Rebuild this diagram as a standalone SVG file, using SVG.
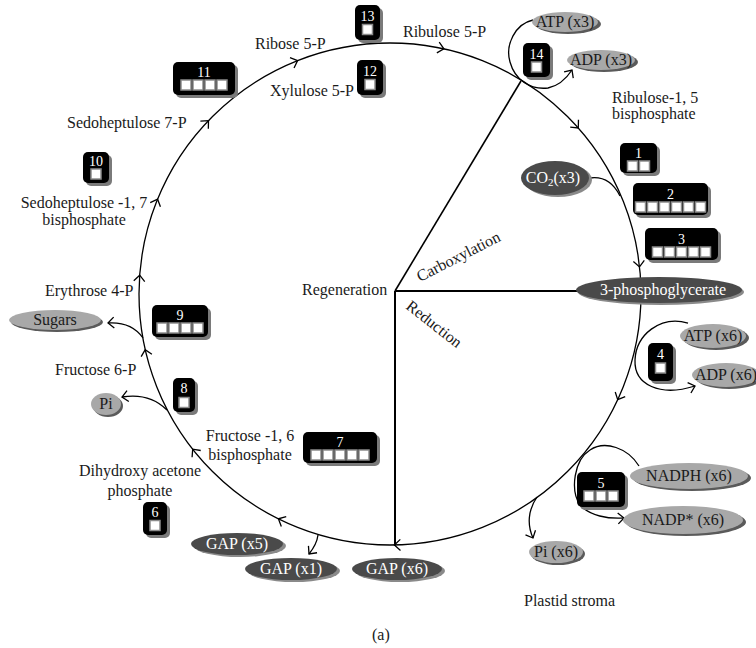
<svg xmlns="http://www.w3.org/2000/svg" width="756" height="648" viewBox="0 0 756 648">
<style>
text{font-family:"Liberation Serif","DejaVu Serif",serif;font-size:16px;fill:#1a1a1a}
.w{fill:#fff}
.m{text-anchor:middle}
.num{fill:#fff;font-size:14px;text-anchor:middle}
.bx{fill:#000}
.bs{fill:#7a7a7a}
.sq{fill:#fff;stroke:#8c8c8c;stroke-width:1.5}
.le{fill:#a8a8a8}
.ls{fill:#5a5a5a}
.de{fill:#4a4a4a}
.ds{fill:#8a8a8a}
.ln{fill:none;stroke:#000;stroke-width:1.3}
.hub{fill:none;stroke:#000;stroke-width:2}
</style>
<defs>
<path id="chev" d="M-6,-5.5 L0,0 L-6,5.5" fill="none" stroke="#000" stroke-width="1.3"/>
<marker id="arr" markerUnits="userSpaceOnUse" markerWidth="14" markerHeight="14" refX="7" refY="7" orient="auto" viewBox="0 0 14 14">
<path d="M1,1.5 L7,7 L1,12.5" fill="none" stroke="#000" stroke-width="1.3"/>
</marker>
</defs>
<rect width="756" height="648" fill="#fff"/>

<g id="connectors">
<circle cx="390" cy="294" r="251" class="ln"/>
<path d="M395,291 L521,81" fill="none" stroke="#000" stroke-width="1.6"/>
<path d="M395,291 L580,291" class="hub"/>
<path d="M395,291 L395,546" class="hub"/>
<use href="#chev" transform="translate(394.4,545) rotate(179)"/>
<use href="#chev" transform="translate(278.4,518.8) rotate(206.4)"/>
<use href="#chev" transform="translate(192.7,449.2) rotate(231.8)"/>
<use href="#chev" transform="translate(145.2,349.6) rotate(257.2)"/>
<use href="#chev" transform="translate(139.7,275.2) rotate(274.3)"/>
<use href="#chev" transform="translate(157.6,199.2) rotate(292.2)"/>
<use href="#chev" transform="translate(208.5,120.6) rotate(313.7)"/>
<use href="#chev" transform="translate(297.6,60.6) rotate(338.4)"/>
<use href="#chev" transform="translate(443.9,48.8) rotate(12.4)"/>
<use href="#chev" transform="translate(578.3,128) rotate(48.6)"/>
<use href="#chev" transform="translate(639.5,266.9) rotate(83.8)"/>
<use href="#chev" transform="translate(617.7,399.7) rotate(114.9)"/>
<path d="M533,20 C515,24 505,45 510,62 C515,80 530,90 548,88 C558,86 566,79 572,70" class="ln" marker-end="url(#arr)"/>
<path d="M590,178 C605,176 614,184 620,196" class="ln"/>
<path d="M688,323 C660,315 636,335 635,360 C634,385 660,397 695,386" class="ln" marker-end="url(#arr)"/>
<path d="M639,466 C628,448 605,440 590,450 C574,460 570,490 580,505 C590,516 608,519 624,518" class="ln" marker-end="url(#arr)"/>
<path d="M537,497 C528,510 527,525 533,538" class="ln" marker-end="url(#arr)"/>
<path d="M167,410 C155,398 140,394 122,397" class="ln" marker-end="url(#arr)"/>
<path d="M143,338 C136,328 124,322 108,323" class="ln" marker-end="url(#arr)"/>
<path d="M318,535 C317,543 313,549 309,554" class="ln" marker-end="url(#arr)"/>
</g>

<g id="labels">
<text x="403" y="37">Ribulose 5-P</text>
<text x="255" y="49">Ribose 5-P</text>
<text x="270" y="96">Xylulose 5-P</text>
<text x="612" y="103">Ribulose-1, 5</text>
<text x="612" y="119">bisphosphate</text>
<text x="67" y="128">Sedoheptulose 7-P</text>
<text x="84" y="208" class="m">Sedoheptulose -1, 7</text>
<text x="84" y="225" class="m">bisphosphate</text>
<text x="45" y="296">Erythrose 4-P</text>
<text x="55" y="375">Fructose 6-P</text>
<text x="250" y="441" class="m">Fructose -1, 6</text>
<text x="250" y="460" class="m">bisphosphate</text>
<text x="140" y="476" class="m">Dihydroxy acetone</text>
<text x="140" y="496" class="m">phosphate</text>
<text x="302" y="295">Regeneration</text>
<text transform="translate(420,282) rotate(-27)">Carboxylation</text>
<text transform="translate(405,308) rotate(38)">Reduction</text>
<text x="524" y="606">Plastid stroma</text>
<text x="372" y="640">(a)</text>
</g>

<g id="e13"><rect x="358" y="8" width="25" height="35" rx="5" class="bs"/><rect x="355" y="5" width="25" height="35" rx="5" class="bx"/><text x="367.5" y="20.5" class="num">13</text><rect x="362.5" y="24.5" width="10" height="10" class="sq"/></g>
<g id="e12"><rect x="360" y="63" width="26" height="35" rx="5" class="bs"/><rect x="357" y="60" width="26" height="35" rx="5" class="bx"/><text x="370" y="75.5" class="num">12</text><rect x="365" y="79.5" width="10" height="10" class="sq"/></g>
<g id="e14"><rect x="526" y="46" width="27" height="34" rx="5" class="bs"/><rect x="523" y="43" width="27" height="34" rx="5" class="bx"/><text x="536.5" y="58.5" class="num">14</text><rect x="531.5" y="62" width="10" height="10" class="sq"/></g>
<g id="e1"><rect x="623" y="146" width="37" height="30" rx="5" class="bs"/><rect x="620" y="143" width="37" height="30" rx="5" class="bx"/><text x="638.5" y="158" class="num">1</text><rect x="627.5" y="161" width="10" height="10" class="sq"/><rect x="639.5" y="161" width="10" height="10" class="sq"/></g>
<g id="e2"><rect x="636" y="186" width="75" height="32" rx="5" class="bs"/><rect x="633" y="183" width="75" height="32" rx="5" class="bx"/><text x="670.5" y="199" class="num">2</text><rect x="635.5" y="202" width="10" height="10" class="sq"/><rect x="647.5" y="202" width="10" height="10" class="sq"/><rect x="659.5" y="202" width="10" height="10" class="sq"/><rect x="671.5" y="202" width="10" height="10" class="sq"/><rect x="683.5" y="202" width="10" height="10" class="sq"/><rect x="695.5" y="202" width="10" height="10" class="sq"/></g>
<g id="e3"><rect x="648" y="231" width="73" height="32" rx="5" class="bs"/><rect x="645" y="228" width="73" height="32" rx="5" class="bx"/><text x="681.5" y="244" class="num">3</text><rect x="652.5" y="247" width="10" height="10" class="sq"/><rect x="664.5" y="247" width="10" height="10" class="sq"/><rect x="676.5" y="247" width="10" height="10" class="sq"/><rect x="688.5" y="247" width="10" height="10" class="sq"/><rect x="700.5" y="247" width="10" height="10" class="sq"/></g>
<g id="e4"><rect x="651" y="346" width="25" height="38" rx="5" class="bs"/><rect x="648" y="343" width="25" height="38" rx="5" class="bx"/><text x="660.5" y="359" class="num">4</text><rect x="655.5" y="363" width="10" height="10" class="sq"/></g>
<g id="e5"><rect x="580" y="475" width="48" height="35" rx="5" class="bs"/><rect x="577" y="472" width="48" height="35" rx="5" class="bx"/><text x="601" y="488" class="num">5</text><rect x="584" y="491" width="10" height="10" class="sq"/><rect x="596" y="491" width="10" height="10" class="sq"/><rect x="608" y="491" width="10" height="10" class="sq"/></g>
<g id="e6"><rect x="146" y="505" width="24" height="33" rx="5" class="bs"/><rect x="143" y="502" width="24" height="33" rx="5" class="bx"/><text x="155" y="517" class="num">6</text><rect x="150" y="520.5" width="10" height="10" class="sq"/></g>
<g id="e7"><rect x="306" y="435" width="74" height="31" rx="5" class="bs"/><rect x="303" y="432" width="74" height="31" rx="5" class="bx"/><text x="340" y="447" class="num">7</text><rect x="311" y="450" width="10" height="10" class="sq"/><rect x="323" y="450" width="10" height="10" class="sq"/><rect x="335" y="450" width="10" height="10" class="sq"/><rect x="347" y="450" width="10" height="10" class="sq"/><rect x="359" y="450" width="10" height="10" class="sq"/></g>
<g id="e8"><rect x="176" y="381" width="22" height="34" rx="5" class="bs"/><rect x="173" y="378" width="22" height="34" rx="5" class="bx"/><text x="184" y="393" class="num">8</text><rect x="179" y="397.5" width="10" height="10" class="sq"/></g>
<g id="e9"><rect x="155" y="308" width="56" height="32" rx="5" class="bs"/><rect x="152" y="305" width="56" height="32" rx="5" class="bx"/><text x="180" y="320" class="num">9</text><rect x="157" y="323" width="10" height="10" class="sq"/><rect x="169" y="323" width="10" height="10" class="sq"/><rect x="181" y="323" width="10" height="10" class="sq"/><rect x="193" y="323" width="10" height="10" class="sq"/></g>
<g id="e10"><rect x="86" y="155" width="26" height="31" rx="5" class="bs"/><rect x="83" y="152" width="26" height="31" rx="5" class="bx"/><text x="96" y="166" class="num">10</text><rect x="91" y="169" width="10" height="10" class="sq"/></g>
<g id="e11"><rect x="176" y="65" width="62" height="33" rx="5" class="bs"/><rect x="173" y="62" width="62" height="33" rx="5" class="bx"/><text x="204" y="77" class="num">11</text><rect x="181" y="80" width="10" height="10" class="sq"/><rect x="193" y="80" width="10" height="10" class="sq"/><rect x="205" y="80" width="10" height="10" class="sq"/><rect x="217" y="80" width="10" height="10" class="sq"/></g>

<g id="atp3"><ellipse cx="568" cy="24" rx="33" ry="10" class="ls"/><ellipse cx="565" cy="22" rx="33" ry="10" class="le"/><text x="565" y="27" class="m">ATP (x3)</text></g>
<g id="adp3"><ellipse cx="604" cy="62" rx="34" ry="10" class="ls"/><ellipse cx="601" cy="60" rx="34" ry="10" class="le"/><text x="601" y="65" class="m">ADP (x3)</text></g>
<g id="co2"><ellipse cx="558" cy="180" rx="34" ry="17" class="ds"/><ellipse cx="555" cy="178" rx="34" ry="17" class="de"/><text x="553" y="183" class="m w">CO<tspan font-size="11" dy="3">2</tspan><tspan dy="-3">(x3)</tspan></text></g>
<g id="pga"><ellipse cx="661" cy="292" rx="83" ry="13" class="ds"/><ellipse cx="659" cy="290" rx="83" ry="13" class="de"/><text x="663" y="295" class="m w">3-phosphoglycerate</text></g>
<g id="atp6"><ellipse cx="716" cy="338" rx="33" ry="12" class="ls"/><ellipse cx="713" cy="336" rx="33" ry="12" class="le"/><text x="713" y="341" class="m">ATP (x6)</text></g>
<g id="adp6"><ellipse cx="729" cy="377" rx="34" ry="12" class="ls"/><ellipse cx="726" cy="375" rx="34" ry="12" class="le"/><text x="726" y="380" class="m">ADP (x6)</text></g>
<g id="nadph"><ellipse cx="692" cy="478" rx="59" ry="13" class="ls"/><ellipse cx="689" cy="476" rx="59" ry="13" class="le"/><text x="689" y="481" class="m">NADPH (x6)</text></g>
<g id="nadp"><ellipse cx="686" cy="522" rx="60" ry="14" class="ls"/><ellipse cx="683" cy="520" rx="60" ry="14" class="le"/><text x="683" y="525" class="m">NADP* (x6)</text></g>
<g id="pi6"><ellipse cx="558" cy="554" rx="27" ry="11" class="ls"/><ellipse cx="556" cy="552" rx="27" ry="11" class="le"/><text x="556" y="557" class="m">Pi (x6)</text></g>
<g id="gap5"><ellipse cx="240" cy="546" rx="46" ry="11" class="ds"/><ellipse cx="237" cy="544" rx="46" ry="11" class="de"/><text x="237" y="549" class="m w">GAP (x5)</text></g>
<g id="gap1"><ellipse cx="294" cy="571" rx="46" ry="11" class="ds"/><ellipse cx="291" cy="569" rx="46" ry="11" class="de"/><text x="291" y="574" class="m w">GAP (x1)</text></g>
<g id="gap6"><ellipse cx="400" cy="571" rx="45" ry="11" class="ds"/><ellipse cx="397" cy="569" rx="45" ry="11" class="de"/><text x="397" y="574" class="m w">GAP (x6)</text></g>
<g id="sugars"><ellipse cx="57" cy="322" rx="46" ry="10" class="ls"/><ellipse cx="55" cy="320" rx="46" ry="10" class="le"/><text x="55" y="325" class="m">Sugars</text></g>
<g id="pi"><ellipse cx="108" cy="406" rx="15" ry="11" class="ls"/><ellipse cx="106" cy="404" rx="15" ry="11" class="le"/><text x="106" y="409" class="m">Pi</text></g>
</svg>
